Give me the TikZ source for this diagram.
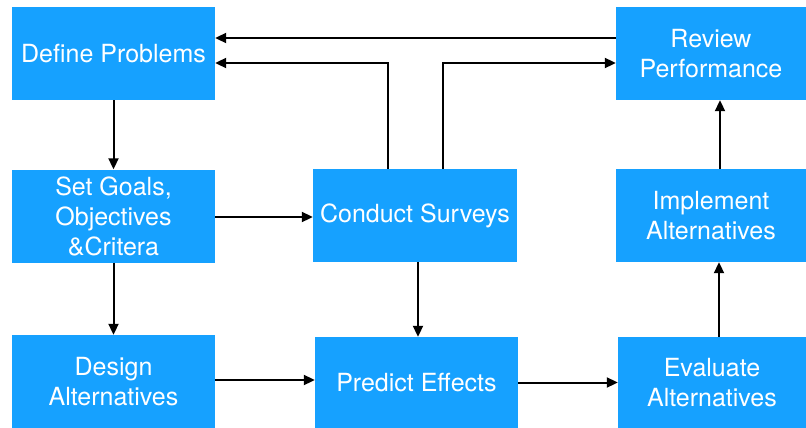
\documentclass[tikz,border=0pt]{standalone}
\usepackage{fontspec}
\setmainfont{TeX Gyre Heros}
\usetikzlibrary{arrows.meta}
\definecolor{boxblue}{RGB}{22,161,255}
\begin{document}
\begin{tikzpicture}[x=1pt,y=-1pt,
  stage/.style={fill=boxblue,draw=none,text=white,align=center,
    inner sep=0pt,font=\fontsize{25}{30}\selectfont},
  arr/.style={draw=black,line width=2pt,-{Triangle[length=11pt,width=10pt]}}]
  \useasboundingbox (0,0) rectangle (806,428);
  % process stages
  \node[stage,minimum width=203pt,minimum height=93pt] (define) at (113.5,53.5) {Define Problems};
  \node[stage,minimum width=190pt,minimum height=93pt] (review) at (711,53.5) {Review\\Performance};
  \node[stage,minimum width=203pt,minimum height=93pt] (goals) at (113.5,216) {Set Goals,\\Objectives\\\&Critera};
  \node[stage,minimum width=204pt,minimum height=93pt] (survey) at (415,215.5) {Conduct Surveys};
  \node[stage,minimum width=190pt,minimum height=93pt] (implement) at (711,215.5) {Implement\\Alternatives};
  \node[stage,minimum width=203pt,minimum height=93pt] (design) at (113.5,381.5) {Design\\Alternatives};
  \node[stage,minimum width=203pt,minimum height=91pt] (predict) at (416.5,382.5) {Predict Effects};
  \node[stage,minimum width=188pt,minimum height=91pt] (evaluate) at (712,382.5) {Evaluate\\Alternatives};
  % connectors
  \draw[arr] ([yshift=15.5pt]review.west) -- ([yshift=15.5pt]define.east);
  \draw[arr] ([xshift=-27pt]survey.north) |- ([yshift=-9.5pt]define.east);
  \draw[arr] ([xshift=28pt]survey.north) |- ([yshift=-9.5pt]review.west);
  \draw[arr] (define.south) -- (goals.north);
  \draw[arr] (goals.south) -- (design.north);
  \draw[arr] ([yshift=-1pt]goals.east) -- ([yshift=-1pt]goals.east -| survey.west);
  \draw[arr] ([xshift=3pt]survey.south) -- ([xshift=3pt]survey.south |- predict.north);
  \draw[arr] ([yshift=1.5pt]design.east) -- ([yshift=1.5pt]design.east -| predict.west);
  \draw[arr] (predict.east) -- (predict.east -| evaluate.west);
  \draw[arr] ([xshift=7pt]evaluate.north) -- ([xshift=7pt]evaluate.north |- implement.south);
  \draw[arr] ([xshift=9pt]implement.north) -- ([xshift=9pt]implement.north |- review.south);
\end{tikzpicture}
\end{document}
